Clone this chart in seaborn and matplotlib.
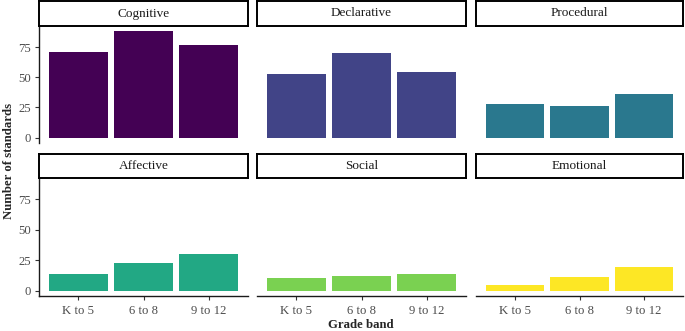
import matplotlib
matplotlib.use('Agg')
import matplotlib.pyplot as plt
import seaborn as sns
import pandas as pd

# data
grade_bands = ['K to 5', '6 to 8', '9 to 12']
domains = ['Cognitive', 'Declarative', 'Procedural', 'Affective', 'Social', 'Emotional']
cognitive = [71, 88, 77]
declarative = [53, 70, 54]
procedural = [28, 26, 36]
affective = [14, 23, 30]
social = [10, 12, 14]
emotional = [5, 11, 19]
colors = ['#440154', '#414487', '#2A788E', '#22A884', '#7AD151', '#FDE725']

counts = [cognitive, declarative, procedural, affective, social, emotional]
df = pd.DataFrame({
    'domain': [d for d in domains for _ in grade_bands],
    'band': grade_bands * len(domains),
    'n': [v for vals in counts for v in vals],
})

sns.set_style('white')
plt.rcParams['font.family'] = ['Liberation Serif', 'DejaVu Serif']

W, H = 685, 331


def box(x0, y0, x1, y1):
    # pixel box (top-left origin) -> figure fraction
    return [x0 / W, 1 - y1 / H, (x1 - x0) / W, (y1 - y0) / H]


fig = plt.figure(figsize=(W / 100, H / 100), dpi=100)

cols_x = [(39, 248), (257, 466), (476, 683)]
rows_y = [((1, 26), (26, 143)), ((154, 178), (178, 296))]
ymax = max(max(c) for c in counts)

for i, dom in enumerate(domains):
    r, c = divmod(i, 3)
    x0, x1 = cols_x[c]
    (sy0, sy1), (py0, py1) = rows_y[r]

    ax = fig.add_axes(box(x0, py0, x1, py1))
    sub = df[df['domain'] == dom]
    sns.barplot(data=sub, x='band', y='n', order=grade_bands, color=colors[i],
                saturation=1, width=0.9, errorbar=None, linewidth=0, ax=ax)
    ax.set_xlim(-0.6, 2.6)
    ax.set_ylim(-ymax * 0.05, ymax * 1.05)
    ax.set_yticks([0, 25, 50, 75])
    ax.set_xlabel('')
    ax.set_ylabel('')
    for s in ax.spines.values():
        s.set_visible(False)
    ax.tick_params(axis='both', length=3, width=0.8, color='#333333',
                   labelsize=9.2, labelcolor='#4D4D4D', pad=2.5)
    ax.tick_params(axis='x', pad=3.5)
    if c == 0:
        ax.spines['left'].set_visible(True)
        ax.spines['left'].set_color('#1a1a1a')
        ax.spines['left'].set_linewidth(1.0)
        ax.tick_params(axis='y', left=True)
    else:
        ax.tick_params(axis='y', left=False, labelleft=False)
    if r == 1:
        ax.spines['bottom'].set_visible(True)
        ax.spines['bottom'].set_color('#1a1a1a')
        ax.spines['bottom'].set_linewidth(1.0)
        ax.tick_params(axis='x', bottom=True)
    else:
        ax.tick_params(axis='x', bottom=False, labelbottom=False)

    # facet strip
    sax = fig.add_axes(box(x0, sy0, x1, sy1))
    sax.set_xticks([])
    sax.set_yticks([])
    sax.set_facecolor('white')
    for s in sax.spines.values():
        s.set_visible(True)
        s.set_color('black')
        s.set_linewidth(1.4)
    sax.text(0.5, 0.5, dom, ha='center', va='center', fontsize=9.5,
             color='#1A1A1A', transform=sax.transAxes)

fig.text(361 / W, 1 - 325 / H, 'Grade band', ha='center', va='center',
         fontsize=9.2, fontweight='bold')
fig.text(9 / W, 1 - 161 / H, 'Number of standards', ha='center', va='center',
         rotation=90, fontsize=9.2, fontweight='bold')

fig.savefig('out.png', dpi=100)
